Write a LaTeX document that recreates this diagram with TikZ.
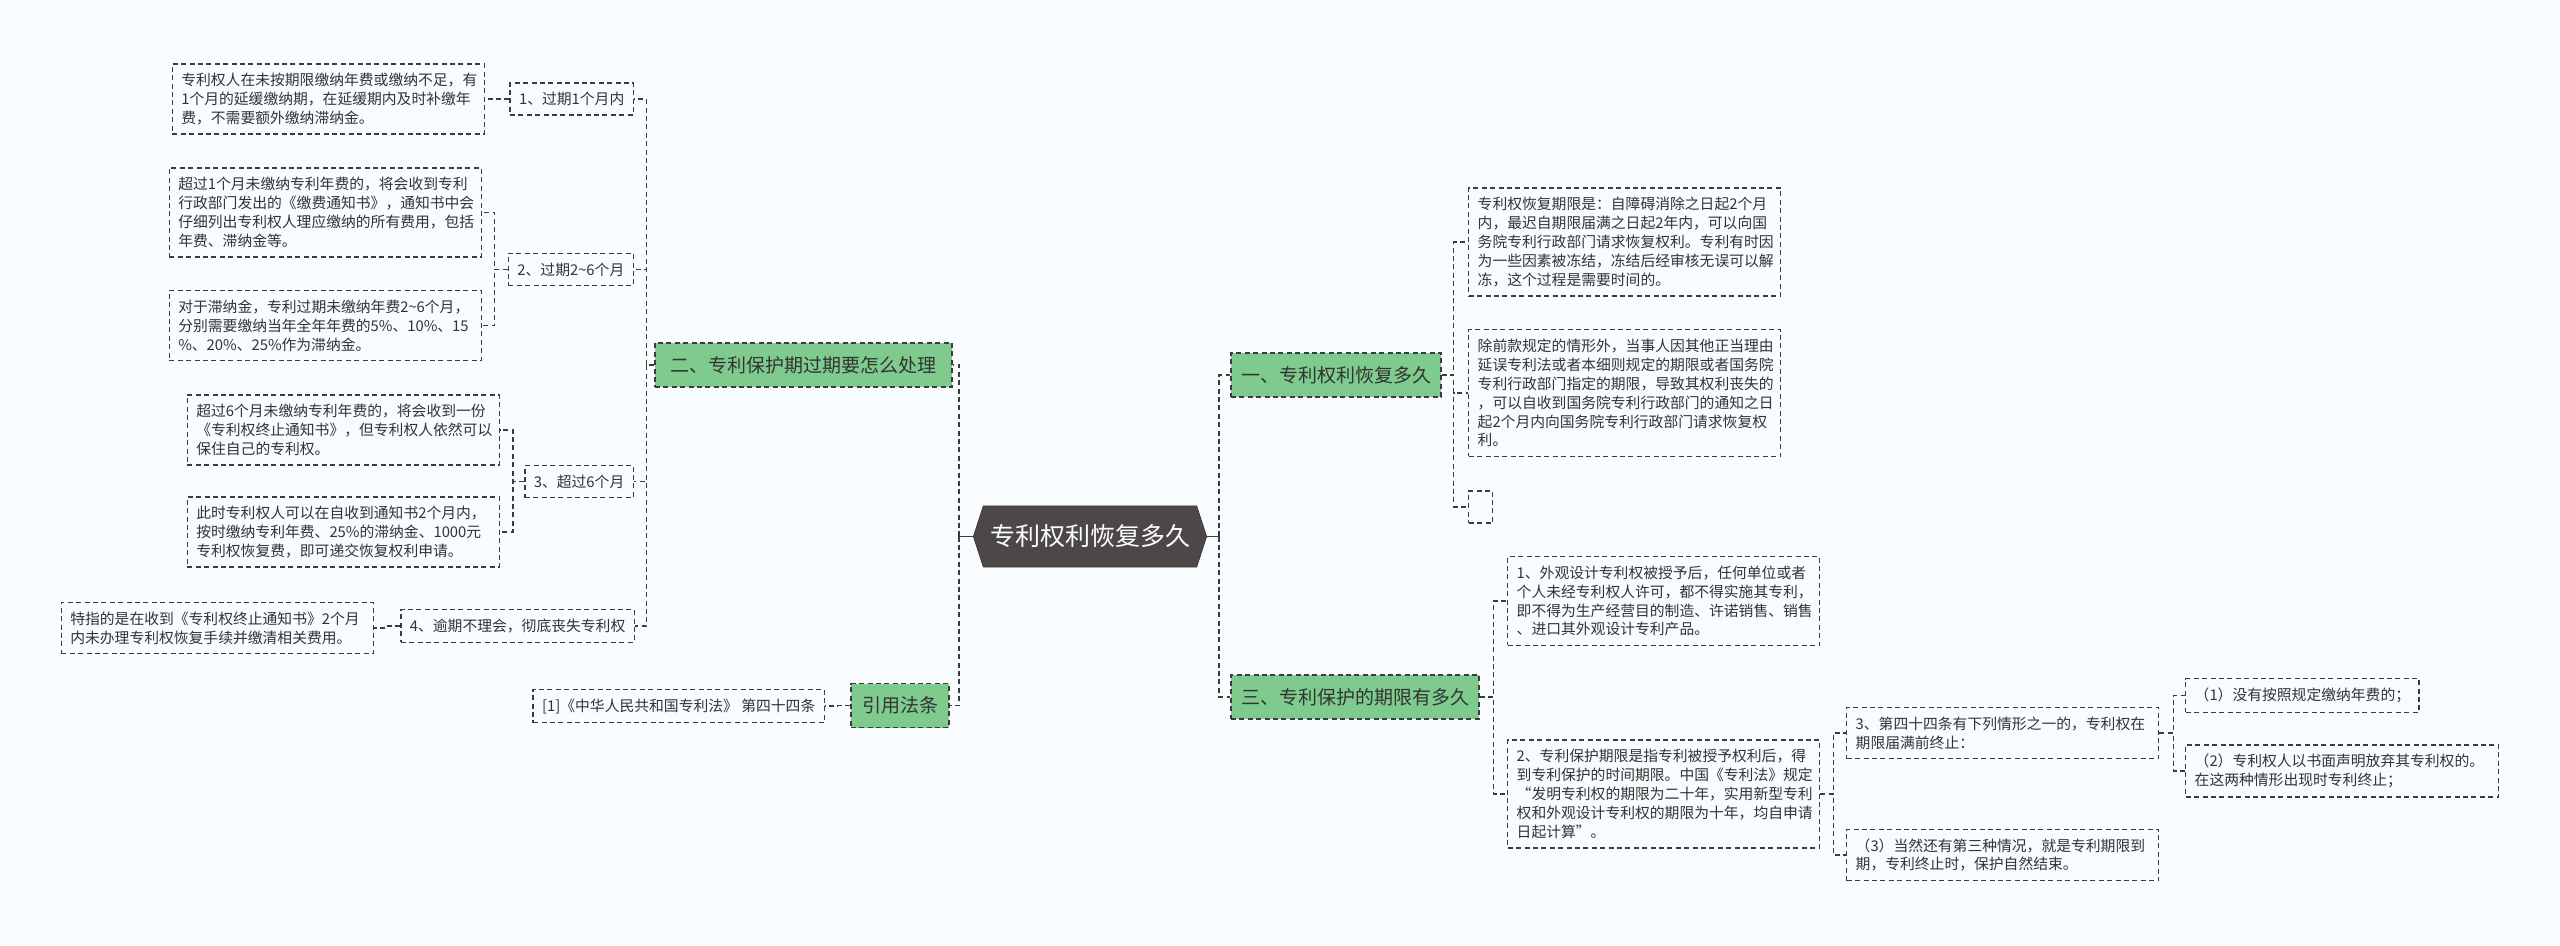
\documentclass[tikz,border=0pt]{standalone}
\usepackage{fontspec}
\setmainfont{Noto Sans CJK SC}
\usetikzlibrary{shapes.symbols}
\definecolor{mBack}{RGB}{248,252,254}
\definecolor{mText}{RGB}{51,51,51}
\definecolor{mLine}{RGB}{60,60,60}
\definecolor{mGreen}{RGB}{126,203,141}
\definecolor{mRoot}{RGB}{77,72,72}
\colorlet{cTopic}{mGreen}
\colorlet{cRoot}{mRoot}
\colorlet{cNote}{mBack}

\begin{document}
\begin{tikzpicture}[x=0.5pt,y=-0.5pt,
		linkline/.style={draw=mLine,line width=0.7pt,dash pattern=on 2.5pt off 1.7pt},
		notebox/.style={linkline,fill=cNote,text=mText,align=left,text width=147pt,
			inner xsep=4.5pt,inner ysep=4.6pt,font=\fontsize{7.4pt}{9.45pt}\selectfont},
		tagbox/.style={linkline,fill=cNote,text=mText,inner xsep=4.5pt,inner ysep=4.6pt,
			font=\fontsize{7.4pt}{9.45pt}\selectfont},
		topicbox/.style={linkline,fill=cTopic,text=mText,minimum height=22pt,inner xsep=5pt,
			font=\fontsize{9.5pt}{11pt}\selectfont},
		rootnode/.style={signal,signal to=east and west,signal pointer angle=144,fill=cRoot,
			draw=cRoot!80!black,text=white,minimum width=115pt,minimum height=30.5pt,
			font=\fontsize{12.5pt}{14pt}\selectfont}]
	\useasboundingbox (0,0) rectangle (2560,946);
	\fill[mBack] (0,0) rectangle (2560,946);

	\node[rootnode] (root) at (1090,536.5) {专利权利恢复多久};

	\node[topicbox,minimum width=148.5pt] (tp2) at (803.5,365) {二、专利保护期过期要怎么处理};
	\node[topicbox,minimum width=49pt] (tpRef) at (900,705.5) {引用法条};
	\node[topicbox,minimum width=105pt] (tp1) at (1336,375) {一、专利权利恢复多久};
	\node[topicbox,minimum width=124pt] (tp3) at (1355,697) {三、专利保护的期限有多久};

	% left side
	\node[tagbox,anchor=east] (s1) at (634,99) {1、过期1个月内};
	\node[tagbox,anchor=east] (s2) at (634,269.5) {2、过期2\textasciitilde6个月};
	\node[tagbox,anchor=east] (s3) at (634,481.5) {3、超过6个月};
	\node[tagbox,anchor=east] (s4) at (635,626) {4、逾期不理会，彻底丧失专利权};

	\node[notebox,anchor=east] (a1) at (485,99) {专利权人在未按期限缴纳年费或缴纳不足，有\\1个月的延缓缴纳期，在延缓期内及时补缴年\\费，不需要额外缴纳滞纳金。};
	\node[notebox,anchor=east] (b1) at (482,212.5) {超过1个月未缴纳专利年费的，将会收到专利\\行政部门发出的《缴费通知书》，通知书中会\\仔细列出专利权人理应缴纳的所有费用，包括\\年费、滞纳金等。};
	\node[notebox,anchor=east] (b2) at (482,325.5) {对于滞纳金，专利过期未缴纳年费2\textasciitilde6个月，\\分别需要缴纳当年全年年费的5\%、10\%、15\\\%、20\%、25\%作为滞纳金。};
	\node[notebox,anchor=east] (c1) at (500,430) {超过6个月未缴纳专利年费的，将会收到一份\\《专利权终止通知书》，但专利权人依然可以\\保住自己的专利权。};
	\node[notebox,anchor=east] (c2) at (500,532) {此时专利权人可以在自收到通知书2个月内，\\按时缴纳专利年费、25\%的滞纳金、1000元\\专利权恢复费，即可递交恢复权利申请。};
	\node[notebox,anchor=east] (d1) at (374,628) {特指的是在收到《专利权终止通知书》2个月\\内未办理专利权恢复手续并缴清相关费用。};
	\node[tagbox,anchor=east] (ref) at (825,706) {[1]《中华人民共和国专利法》 第四十四条};

	% right side
	\node[notebox,anchor=west] (e1) at (1468,242) {专利权恢复期限是：自障碍消除之日起2个月\\内，最迟自期限届满之日起2年内，可以向国\\务院专利行政部门请求恢复权利。专利有时因\\为一些因素被冻结，冻结后经审核无误可以解\\冻，这个过程是需要时间的。};
	\node[notebox,anchor=west] (e2) at (1468,393) {除前款规定的情形外，当事人因其他正当理由\\延误专利法或者本细则规定的期限或者国务院\\专利行政部门指定的期限，导致其权利丧失的\\，可以自收到国务院专利行政部门的通知之日\\起2个月内向国务院专利行政部门请求恢复权\\利。};
	\node[linkline,fill=cNote,anchor=west,minimum width=12pt,minimum height=16pt,inner sep=0pt] (e3) at (1468,507) {};

	\node[notebox,anchor=west] (f1) at (1507,601) {1、外观设计专利权被授予后，任何单位或者\\个人未经专利权人许可，都不得实施其专利，\\即不得为生产经营目的制造、许诺销售、销售\\、进口其外观设计专利产品。};
	\node[notebox,anchor=west] (f2) at (1507,794) {2、专利保护期限是指专利被授予权利后，得\\到专利保护的时间期限。中国《专利法》规定\\“发明专利权的期限为二十年，实用新型专利\\权和外观设计专利权的期限为十年，均自申请\\日起计算”。};
	\node[notebox,anchor=west] (f3) at (1846,733) {3、第四十四条有下列情形之一的，专利权在\\期限届满前终止：};
	\node[notebox,anchor=west] (f4) at (1846,855) {（3）当然还有第三种情况，就是专利期限到\\期，专利终止时，保护自然结束。};
	\node[tagbox,anchor=west] (g1) at (2185,695.5) {（1）没有按照规定缴纳年费的；};
	\node[notebox,anchor=west,text width=147.5pt] (g2) at (2185,771) {（2）专利权人以书面声明放弃其专利权的。\\在这两种情形出现时专利终止；};

	% connectors
	\draw[linkline] (root.west) -- ++(-14,0) coordinate (rl);
	\draw[linkline] (root.east) -- ++(12,0) coordinate (rr);
	\draw[mLine,line width=0.8pt] (root.west) -- (rl);
	\draw[mLine,line width=0.8pt] (root.east) -- (rr);
	\foreach \c in {tp2,tpRef} \draw[linkline] (rl) |- (\c.east);
	\foreach \c in {tp1,tp3} \draw[linkline] (rr) |- (\c.west);

	\foreach \c in {s1,s2,s3,s4} \draw[linkline] (tp2.west) -- ++(-8,0) |- (\c.east);
	\draw[linkline] (s1.west) -- ++(-13,0) |- (a1.east);
	\foreach \c in {b1,b2} \draw[linkline] (s2.west) -- ++(-13,0) |- (\c.east);
	\foreach \c in {c1,c2} \draw[linkline] (s3.west) -- ++(-11,0) |- (\c.east);
	\draw[linkline] (s4.west) -- ++(-14,0) |- (d1.east);
	\draw[linkline] (tpRef.west) -- ++(-13,0) |- (ref.east);

	\foreach \c in {e1,e2,e3} \draw[linkline] (tp1.east) -- ++(12,0) |- (\c.west);
	\foreach \c in {f1,f2} \draw[linkline] (tp3.east) -- ++(14,0) |- (\c.west);
	\foreach \c in {f3,f4} \draw[linkline] (f2.east) -- ++(13,0) |- (\c.west);
	\foreach \c in {g1,g2} \draw[linkline] (f3.east) -- ++(14,0) |- (\c.west);
\end{tikzpicture}
\end{document}
